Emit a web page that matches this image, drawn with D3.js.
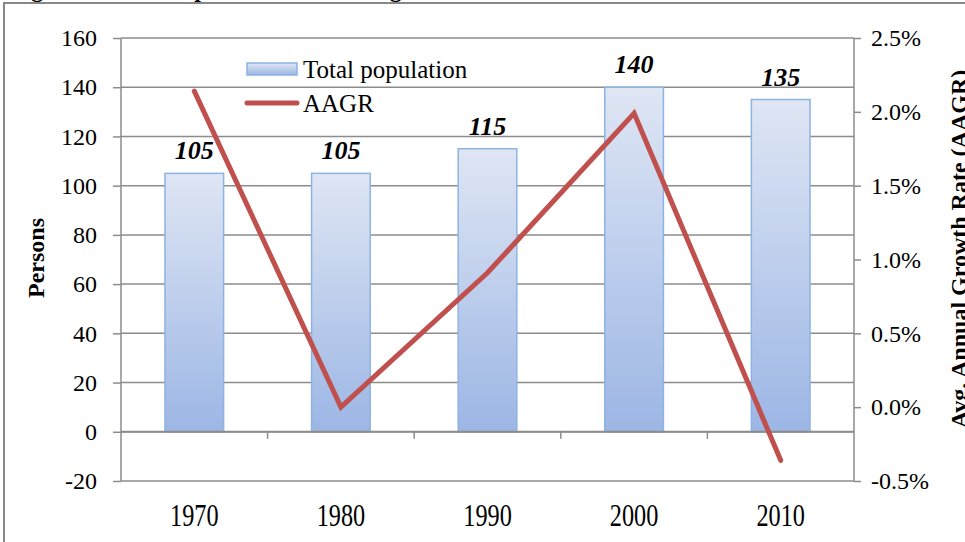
<!DOCTYPE html>
<html>
<head>
<meta charset="utf-8">
<script src="https://cdn.jsdelivr.net/npm/d3@7"></script>
<style>
  html, body { margin: 0; padding: 0; background: #fff; overflow: hidden; }
  svg { display: block; font-family: "Liberation Serif", "Times New Roman", serif; }
</style>
</head>
<body>
<div id="chart"></div>
<script>
// chart data
var years = ["1970", "1980", "1990", "2000", "2010"];
var population = [105, 105, 115, 140, 135];
var aagr = [0.0214, 0.0, 0.0091, 0.0199, -0.0036];
var leftTicks = [-20, 0, 20, 40, 60, 80, 100, 120, 140, 160];
var rightTicks = [-0.005, 0, 0.005, 0.01, 0.015, 0.02, 0.025];

var W = 965, H = 542;
// plot area edges (window.top is reserved, so no plain "top")
var plotL = 121, plotR = 854, plotT = 38, plotB = 481;

var svg = d3.select("#chart").append("svg")
  .attr("width", W)
  .attr("height", H);

var defs = svg.append("defs");
var grad = defs.append("linearGradient")
  .attr("id", "barGrad")
  .attr("x1", "0%").attr("x2", "0%")
  .attr("y1", "0%").attr("y2", "100%");
grad.append("stop").attr("offset", "0%").style("stop-color", "#dfe6f4");
grad.append("stop").attr("offset", "100%").style("stop-color", "#9cb6e5");

// cut off title above the frame
svg.append("text")
  .attr("x", 10)
  .attr("y", -3)
  .attr("font-size", 24)
  .attr("font-weight", "bold")
  .text("Figure 3: Total Population and Average Annual Growth Rate");

// outer frame (runs off right and bottom)
svg.append("rect")
  .attr("x", 4).attr("y", 3)
  .attr("width", 1000).attr("height", 600)
  .attr("fill", "none")
  .attr("stroke", "#888")
  .attr("stroke-width", 2);

var x = d3.scaleBand()
  .domain(years)
  .range([plotL, plotR])
  .paddingInner(0.6)
  .paddingOuter(0.3);

var yL = d3.scaleLinear().domain([-20, 160]).range([plotB, plotT]);
var yR = d3.scaleLinear().domain([-0.005, 0.025]).range([plotB, plotT]);

var gray = "#8c8c8c";

// gridlines
svg.append("g")
  .selectAll("line")
  .data(leftTicks)
  .enter()
  .append("line")
  .attr("x1", plotL)
  .attr("x2", plotR)
  .attr("y1", function(d){ return yL(d); })
  .attr("y2", function(d){ return yL(d); })
  .attr("stroke", gray)
  .attr("stroke-width", 1.5);

// left axis
var axL = svg.append("g")
  .attr("transform", "translate(" + plotL + ",0)")
  .call(d3.axisLeft(yL).tickValues(leftTicks).tickSize(8).tickPadding(16)
    .tickFormat(function(d){ return String(d); }));

// right axis
var axR = svg.append("g")
  .attr("transform", "translate(" + plotR + ",0)")
  .call(d3.axisRight(yR).tickValues(rightTicks).tickSize(7).tickPadding(10)
    .tickFormat(function(d){ return (d * 100).toFixed(1) + "%"; }));

[axL, axR].forEach(function(ax){
  ax.select(".domain").attr("stroke", gray).attr("stroke-width", 1.5);
  ax.selectAll(".tick line").attr("stroke", gray).attr("stroke-width", 1.5);
  ax.selectAll("text")
    .attr("font-family", "Liberation Serif")
    .attr("font-size", 24)
    .attr("fill", "#000");
});
axL.select(".domain").attr("d", "M0," + plotT + "V" + plotB);
axR.select(".domain").attr("d", "M0," + plotT + "V" + plotB);

// bars
svg.append("g")
  .selectAll("rect")
  .data(population)
  .enter()
  .append("rect")
  .attr("x", function(d, i){ return x(years[i]); })
  .attr("y", function(d){ return yL(d); })
  .attr("width", x.bandwidth())
  .attr("height", function(d){ return yL(0) - yL(d); })
  .attr("fill", "url(#barGrad)")
  .attr("stroke", "#8db3e2")
  .attr("stroke-width", 1.5);

// category axis along zero
var y0 = yL(0);
svg.append("line")
  .attr("x1", plotL).attr("x2", plotR)
  .attr("y1", y0).attr("y2", y0)
  .attr("stroke", gray)
  .attr("stroke-width", 2);

var bounds = years.slice(1).map(function(d){
  return x(d) - x.step() * x.paddingInner() / 2;
});
svg.append("g")
  .selectAll("line")
  .data(bounds)
  .enter()
  .append("line")
  .attr("x1", function(d){ return d; })
  .attr("x2", function(d){ return d; })
  .attr("y1", y0)
  .attr("y2", y0 + 7)
  .attr("stroke", gray)
  .attr("stroke-width", 1.5);

// category labels (a bit condensed, like the original)
svg.append("g")
  .selectAll("text")
  .data(years)
  .enter()
  .append("text")
  .attr("transform", function(d){
    return "translate(" + (x(d) + x.bandwidth() / 2) + ",526) scale(0.97,1.27)";
  })
  .attr("text-anchor", "middle")
  .attr("font-size", 25)
  .text(function(d){ return d; });

// data labels
svg.append("g")
  .selectAll("text")
  .data(population)
  .enter()
  .append("text")
  .attr("x", function(d, i){ return x(years[i]) + x.bandwidth() / 2; })
  .attr("y", function(d){ return yL(d) - 14; })
  .attr("text-anchor", "middle")
  .attr("font-size", 26)
  .attr("font-weight", "bold")
  .attr("font-style", "italic")
  .text(function(d){ return d; });

// AAGR line
var line = d3.line()
  .x(function(d, i){ return x(years[i]) + x.bandwidth() / 2; })
  .y(function(d){ return yR(d); });

svg.append("path")
  .datum(aagr)
  .attr("d", line)
  .attr("fill", "none")
  .attr("stroke", "#c0504d")
  .attr("stroke-width", 5)
  .attr("stroke-linecap", "round")
  .attr("stroke-linejoin", "miter");

// axis titles
svg.append("text")
  .attr("transform", "translate(44,258) rotate(-90)")
  .attr("text-anchor", "middle")
  .attr("font-size", 24)
  .attr("font-weight", "bold")
  .text("Persons");

svg.append("text")
  .attr("transform", "translate(967,249) rotate(-90)")
  .attr("text-anchor", "middle")
  .attr("font-size", 24)
  .attr("font-weight", "bold")
  .text("Avg. Annual Growth Rate (AAGR)");

// legend
var lg = svg.append("g");
lg.append("rect")
  .attr("x", 247).attr("y", 63)
  .attr("width", 50).attr("height", 12)
  .attr("fill", "url(#barGrad)")
  .attr("stroke", "#8db3e2")
  .attr("stroke-width", 1.5);
lg.append("text")
  .attr("x", 303).attr("y", 78)
  .attr("font-size", 25)
  .text("Total population");
lg.append("line")
  .attr("x1", 247).attr("x2", 297)
  .attr("y1", 103).attr("y2", 103)
  .attr("stroke", "#c0504d")
  .attr("stroke-width", 5)
  .attr("stroke-linecap", "round");
lg.append("text")
  .attr("x", 303).attr("y", 112)
  .attr("font-size", 25)
  .text("AAGR");
</script>
</body>
</html>
